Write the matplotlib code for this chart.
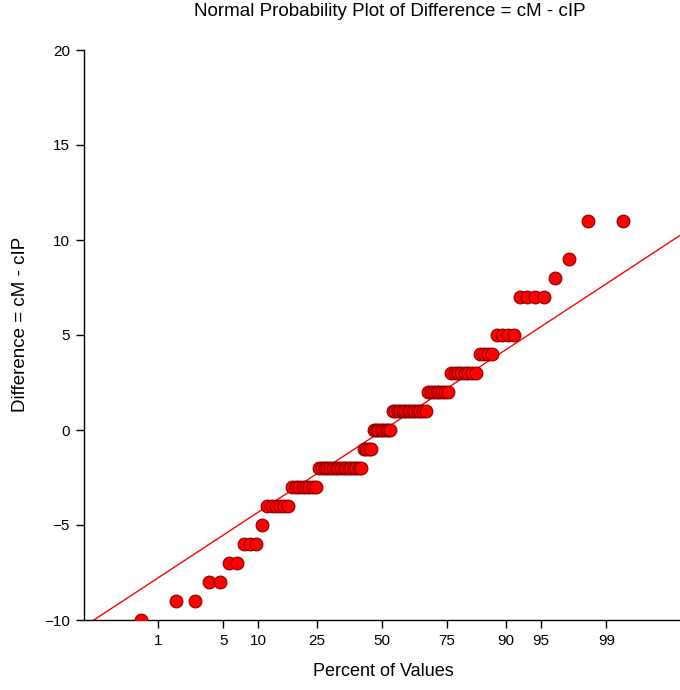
import numpy as np
import matplotlib
matplotlib.use("Agg")
import matplotlib.pyplot as plt
from statistics import NormalDist

plt.rcParams['font.family'] = ['Liberation Sans', 'DejaVu Sans']

# Data: distinct differences and how many times each occurs (n = 100)
diff_values = [-10, -9, -8, -7, -6, -5, -4, -3, -2, -1, 0, 1, 2, 3, 4, 5, 7, 8, 9, 11]
diff_counts = [1, 2, 2, 2, 3, 1, 6, 8, 17, 4, 8, 14, 8, 8, 4, 4, 4, 1, 1, 2]

tick_percents = [1, 5, 10, 25, 50, 75, 90, 95, 99]
y_ticks = [-10, -5, 0, 5, 10, 15, 20]

# Reference line parameters
line_intercept = -0.05
line_slope = 3.33

title = "Normal Probability Plot of Difference = cM - cIP"
xlabel = "Percent of Values"
ylabel = "Difference = cM - cIP"

nd = NormalDist()
y = np.repeat(diff_values, diff_counts).astype(float)
y.sort()
n = len(y)
ranks = np.arange(1, n + 1)
pp = (ranks - 0.375) / (n + 0.25)
z = np.array([nd.inv_cdf(p) for p in pp])

zlim = nd.inv_cdf(0.999)

fig = plt.figure(figsize=(6.8, 6.9), dpi=100)
ax = fig.add_axes([84/680, 1 - 620/690, 596/680, 570/690])

zz = np.array([-zlim, zlim])
ax.plot(zz, line_intercept + line_slope * zz, color='#ff0000', lw=1.0, zorder=2)
ax.plot(z, y, 'o', ms=9.2, mfc='#ff0000', mec='#8b0000', mew=0.8, zorder=3)

ax.set_xlim(-zlim, zlim)
ax.set_ylim(-10, 20)
ax.set_xticks([nd.inv_cdf(p / 100) for p in tick_percents])
ax.set_xticklabels([str(p) for p in tick_percents])
ax.set_yticks(y_ticks)

for s in ['top', 'right']:
    ax.spines[s].set_visible(False)
for s in ['left', 'bottom']:
    ax.spines[s].set_linewidth(1.0)
    ax.spines[s].set_color('black')

ax.tick_params(axis='both', direction='out', length=6, width=1, labelsize=11, colors='black', pad=4)

fig.text(390/680, 1 - 12/690, title, fontsize=13.5, ha='center', va='center')
ax.set_xlabel(xlabel, fontsize=13, va='center')
ax.xaxis.set_label_coords(0.503, (620 - 671) / 570)
ax.set_ylabel(ylabel, fontsize=13.5, va='center')
ax.yaxis.set_label_coords((21 - 84) / 596, (620 - 324) / 570)

fig.savefig("out.png", dpi=100)
